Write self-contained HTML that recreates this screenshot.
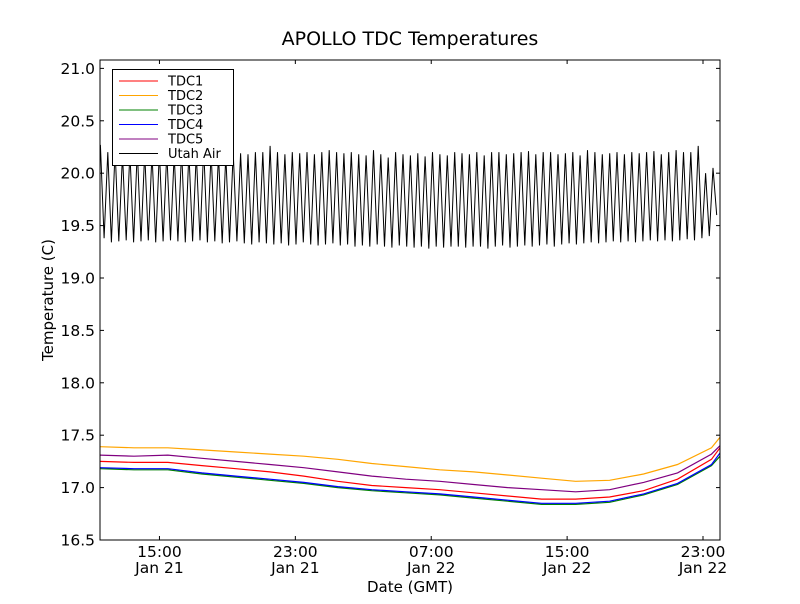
<!DOCTYPE html>
<html><head><meta charset="utf-8"><style>
body{margin:0;background:#fff;font-family:"DejaVu Sans","Liberation Sans",sans-serif}
</style></head><body>
<svg id="c" width="800" height="600" xmlns="http://www.w3.org/2000/svg" font-family="DejaVu Sans, Liberation Sans, sans-serif">
<rect width="800" height="600" fill="#fff"/>
<text x="410" y="45" font-size="19" text-anchor="middle">APOLLO TDC Temperatures</text>
<text x="410" y="592" font-size="15" text-anchor="middle">Date (GMT)</text>
<text x="53" y="300" font-size="15" text-anchor="middle" transform="rotate(-90 53 300)">Temperature (C)</text>
<g id="series"></g>
<g id="axes"></g>
<rect x="100" y="60" width="620" height="480" fill="none" stroke="#000" stroke-width="1"/>
<g>
<rect x="112.5" y="69.5" width="121" height="96" fill="#fff" stroke="#000"/>
<g id="leg"></g>
</g>
</svg>
<script>
const hours=[0,2,4,6,8,10,12,14,16,18,20,22,24,26,28,30,32,34,36,36.5];
const tdc1=[17.25,17.24,17.24,17.21,17.18,17.15,17.11,17.06,17.02,17.00,16.98,16.95,16.92,16.89,16.89,16.91,16.97,17.08,17.27,17.38];
const tdc2=[17.39,17.38,17.38,17.36,17.34,17.32,17.30,17.27,17.23,17.20,17.17,17.15,17.12,17.09,17.06,17.07,17.13,17.22,17.38,17.48];
const tdc3=[17.18,17.17,17.17,17.13,17.10,17.07,17.04,17.00,16.97,16.95,16.93,16.90,16.87,16.84,16.84,16.86,16.93,17.03,17.21,17.30];
const tdc4=[17.19,17.18,17.18,17.14,17.11,17.08,17.05,17.01,16.98,16.96,16.94,16.91,16.88,16.85,16.85,16.87,16.94,17.04,17.22,17.33];
const tdc5=[17.31,17.30,17.31,17.28,17.25,17.22,17.19,17.15,17.11,17.08,17.06,17.03,17.00,16.98,16.96,16.98,17.05,17.14,17.32,17.40];
const airPeaks=[20.27,20.2,20.22,20.18,20.2,20.22,20.2,20.19,20.21,20.2,20.18,20.22,20.2,20.19,20.24,20.2,20.18,20.17,20.2,20.19,20.18,20.2,20.2,20.26,20.2,20.18,20.2,20.19,20.2,20.18,20.2,20.22,20.2,20.19,20.2,20.18,20.17,20.22,20.18,20.15,20.2,20.18,20.17,20.19,20.16,20.2,20.18,20.17,20.2,20.19,20.18,20.2,20.17,20.2,20.2,20.18,20.19,20.2,20.21,20.18,20.2,20.2,20.18,20.19,20.2,20.17,20.22,20.2,20.18,20.19,20.2,20.18,20.2,20.19,20.2,20.21,20.18,20.2,20.22,20.2,20.2,20.26,20.0,20.05];
const airTroughs=[19.38,19.34,19.35,19.36,19.34,19.35,19.36,19.34,19.35,19.36,19.35,19.34,19.35,19.36,19.34,19.35,19.33,19.34,19.35,19.33,19.32,19.34,19.33,19.32,19.33,19.31,19.32,19.34,19.32,19.31,19.32,19.33,19.31,19.32,19.3,19.31,19.3,19.32,19.3,19.29,19.31,19.3,19.29,19.3,19.28,19.3,19.29,19.3,19.3,19.29,19.3,19.3,19.28,19.3,19.31,19.29,19.3,19.31,19.3,19.31,19.32,19.3,19.32,19.33,19.32,19.33,19.34,19.33,19.34,19.35,19.34,19.35,19.34,19.35,19.36,19.35,19.36,19.35,19.36,19.37,19.36,19.38,19.4,19.6];
const yTicks=[16.5,17.0,17.5,18.0,18.5,19.0,19.5,20.0,20.5,21.0];
const xTickHours=[3.5,11.5,19.5,27.5,35.5];
const xTickTimes=["15:00","23:00","07:00","15:00","23:00"];
const xTickDates=["Jan 21","Jan 21","Jan 22","Jan 22","Jan 22"];
const NS="http://www.w3.org/2000/svg";
const X0=100,X1=720,Y0=540,Y1=60,TMAX=36.5,YMIN=16.5,YMAX=21.08;
const xs=t=>X0+(t/TMAX)*(X1-X0);
const ys=v=>Y0-(v-YMIN)/(YMAX-YMIN)*(Y0-Y1);
function mk(tag,attrs,parent){const e=document.createElementNS(NS,tag);for(const k in attrs)e.setAttribute(k,attrs[k]);parent.appendChild(e);return e;}
const S=document.getElementById('series'),A=document.getElementById('axes'),L=document.getElementById('leg');
const series=[["tdc3",tdc3,"#008000"],["tdc4",tdc4,"#0000ff"],["tdc1",tdc1,"#ff0000"],["tdc5",tdc5,"#800080"],["tdc2",tdc2,"#ffa500"]];
series.forEach(s=>{
  const d=s[1].map((v,i)=>(i?'L':'M')+xs(hours[i]).toFixed(1)+','+ys(v).toFixed(1)).join('');
  const p=mk('path',{d:d,fill:'none',stroke:s[2],'stroke-width':1.2},S);
  
  
});
const n=airPeaks.length, cw=TMAX/n;
let d='';
for(let i=0;i<n;i++){
  d+=(i?'L':'M')+xs(i*cw+cw*0.05).toFixed(1)+','+ys(airPeaks[i]).toFixed(1);
  d+='L'+xs(i*cw+cw*0.55).toFixed(1)+','+ys(airTroughs[i]).toFixed(1);
}
const ap=mk('path',{d:d,fill:'none',stroke:'#000','stroke-width':1},S);


yTicks.forEach(v=>{
  const y=ys(v);
  mk('line',{x1:X0,x2:X0+4,y1:y,y2:y,stroke:'#000'},A);
  mk('line',{x1:X1-4,x2:X1,y1:y,y2:y,stroke:'#000'},A);
  const t=mk('text',{x:X0-5,y:y+5.5,'font-size':15.5,'text-anchor':'end'},A);
  t.textContent=v.toFixed(1);
  
  
});
xTickHours.forEach((h,i)=>{
  const x=xs(h);
  mk('line',{x1:x,x2:x,y1:Y0,y2:Y0-4,stroke:'#000'},A);
  mk('line',{x1:x,x2:x,y1:Y1,y2:Y1+4,stroke:'#000'},A);
  const t=mk('text',{x:x,y:557,'font-size':15.5,'text-anchor':'middle'},A);
  t.textContent=xTickTimes[i];
  
  
  const t2=mk('text',{x:x,y:573,'font-size':15.5,'text-anchor':'middle'},A);
  t2.textContent=xTickDates[i];
  
  
});
const legItems=[["TDC1","#ff0000"],["TDC2","#ffa500"],["TDC3","#008000"],["TDC4","#0000ff"],["TDC5","#800080"],["Utah Air","#000"]];
legItems.forEach((it,i)=>{
  const y=81+i*14.5;
  const g=mk('g',{},L);
  
  
  mk('line',{x1:119,x2:158,y1:y,y2:y,stroke:it[1],'stroke-width':1},g);
  const t=mk('text',{x:168,y:y+4.5,'font-size':13},g);
  t.textContent=it[0];
});
</script>
</body></html>
